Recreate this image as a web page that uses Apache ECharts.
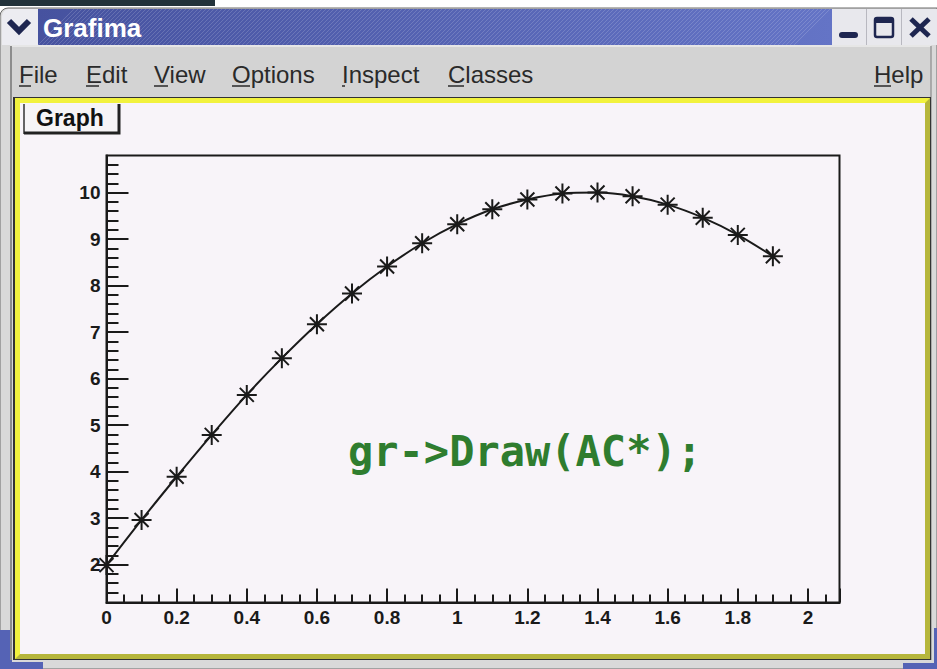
<!DOCTYPE html>
<html>
<head>
<meta charset="utf-8">
<title>Grafima</title>
<script src="https://cdn.jsdelivr.net/npm/echarts@6/dist/echarts.min.js"></script>
<style>
  html, body { margin: 0; padding: 0; background: #fff; }
  #chart { width: 937px; height: 669px; }
</style>
</head>
<body>
<div id="chart"></div>
<script>
// graph points (x, y)
const xValues = [0, 0.1, 0.2, 0.3, 0.4, 0.5, 0.6, 0.7, 0.8, 0.9,
                 1.0, 1.1, 1.2, 1.3, 1.4, 1.5, 1.6, 1.7, 1.8, 1.9]
const yValues = [1.99, 2.96, 3.89, 4.79, 5.65, 6.44, 7.17, 7.83, 8.41, 8.91,
                 9.32, 9.64, 9.85, 9.98, 10.0, 9.92, 9.74, 9.46, 9.09, 8.63]

// axis ticks
const yMajorTicks = [2, 3, 4, 5, 6, 7, 8, 9, 10]
const yMinorTicks = [1.4, 1.6, 1.8]
yMajorTicks.forEach(function (t) {
  [0.2, 0.4, 0.6, 0.8].forEach(function (d) {
    let v = Math.round((t + d) * 10) / 10
    if (v < 10.8) yMinorTicks.push(v)
  })
})

const menuItems = ['File', 'Edit', 'View', 'Options', 'Inspect', 'Classes', 'Help']
const codeText = 'gr->Draw(AC*);'

const ink = '#1a1a1a'
const uiFont = '"Liberation Sans", Arial, sans-serif'

// asterisk marker (ROOT marker style 3)
const starPath = 'path://M9 0L11 0L11 20L9 20Z M0 9L20 9L20 11L0 11Z ' +
  'M2.3 3.7L3.7 2.3L17.7 16.3L16.3 17.7Z M16.3 2.3L17.7 3.7L3.7 17.7L2.3 16.3Z'

function windowChrome() {
  let els = []
  // strip of desktop above the window
  els.push({ type: 'rect', shape: { x: 0, y: 0, width: 215, height: 6 }, style: { fill: '#22323a' } })
  // window body
  els.push({ type: 'rect', shape: { x: 0, y: 8, width: 937, height: 661, r: [8, 0, 0, 0] },
    style: { fill: '#d9d9d9', stroke: '#6a6a6a', lineWidth: 1 } })
  // blue corners of the desktop showing below
  els.push({ type: 'rect', shape: { x: 0, y: 630, width: 12, height: 39 }, style: { fill: '#5563b5' } })
  els.push({ type: 'rect', shape: { x: 0, y: 662, width: 43, height: 7 }, style: { fill: '#5563b5' } })
  els.push({ type: 'rect', shape: { x: 903, y: 663, width: 34, height: 6 }, style: { fill: '#5563b5' } })
  els.push({ type: 'rect', shape: { x: 934, y: 628, width: 3, height: 41 }, style: { fill: '#5563b5' } })

  // title bar
  els.push({ type: 'rect', shape: { x: 38, y: 9, width: 794, height: 36 },
    style: { fill: new echarts.graphic.LinearGradient(0, 0, 1, 0, [
      { offset: 0, color: '#46529f' }, { offset: 1, color: '#6474c6' }]) } })
  let hatch = []
  for (let x = 38; x < 796; x += 4) {
    hatch.push({ type: 'line', shape: { x1: x, y1: 45, x2: x + 36, y2: 9 },
      style: { stroke: 'rgba(255,255,255,0.16)', lineWidth: 1 }, silent: true })
  }
  els.push({ type: 'group', children: hatch })
  els.push({ type: 'rect', shape: { x: 2, y: 9, width: 36, height: 36, r: [7, 0, 0, 0] }, style: { fill: '#ececf1' } })
  els.push({ type: 'polyline', shape: { points: [[9, 21], [19, 31], [29, 21]] },
    style: { stroke: '#1e2650', lineWidth: 6, fill: null } })
  els.push({ type: 'text', x: 43, y: 28,
    style: { text: 'Grafima', fill: '#ffffff', font: 'bold 26px ' + uiFont, verticalAlign: 'middle' } })

  // window buttons
  els.push({ type: 'rect', shape: { x: 832, y: 9, width: 105, height: 36 }, style: { fill: '#e8e8ed' } })
  els.push({ type: 'line', shape: { x1: 866.5, y1: 9, x2: 866.5, y2: 45 }, style: { stroke: '#b8b8c0', lineWidth: 1 } })
  els.push({ type: 'line', shape: { x1: 901.5, y1: 9, x2: 901.5, y2: 45 }, style: { stroke: '#b8b8c0', lineWidth: 1 } })
  els.push({ type: 'rect', shape: { x: 839, y: 32, width: 19, height: 6, r: 3 }, style: { fill: '#1e2650' } })
  els.push({ type: 'rect', shape: { x: 875, y: 18, width: 18, height: 19, r: 2 }, style: { fill: null, stroke: '#1e2650', lineWidth: 2.5 } })
  els.push({ type: 'rect', shape: { x: 875, y: 18, width: 18, height: 5 }, style: { fill: '#1e2650' } })
  els.push({ type: 'line', shape: { x1: 911, y1: 19, x2: 929, y2: 36 }, style: { stroke: '#1e2650', lineWidth: 5 } })
  els.push({ type: 'line', shape: { x1: 929, y1: 19, x2: 911, y2: 36 }, style: { stroke: '#1e2650', lineWidth: 5 } })

  // menu bar
  els.push({ type: 'rect', shape: { x: 10, y: 45, width: 921, height: 52 }, style: { fill: '#d3d3d3' } })
  els.push({ type: 'line', shape: { x1: 10, y1: 46, x2: 931, y2: 46 }, style: { stroke: '#ececec', lineWidth: 1.5 } })
  els.push({ type: 'line', shape: { x1: 11, y1: 46, x2: 11, y2: 660 }, style: { stroke: '#8c8c8c', lineWidth: 2 } })
  els.push({ type: 'line', shape: { x1: 931, y1: 46, x2: 931, y2: 660 }, style: { stroke: '#9a9a9a', lineWidth: 1.5 } })
  const menuX = [19, 86, 154, 232, 342, 448, 874]
  const underlineW = [12, 13, 14, 18, 3, 16, 17]
  menuItems.forEach(function (m, i) {
    els.push({ type: 'text', x: menuX[i], y: 74,
      style: { text: m, fill: '#2a2a2a', font: '24px ' + uiFont, verticalAlign: 'middle' } })
    els.push({ type: 'line', shape: { x1: menuX[i], y1: 86, x2: menuX[i] + underlineW[i], y2: 86 },
      style: { stroke: '#2a2a2a', lineWidth: 1.5 } })
  })

  // canvas panel with yellow highlight border
  els.push({ type: 'rect', shape: { x: 13, y: 97, width: 918, height: 563 }, style: { fill: '#333' } })
  els.push({ type: 'rect', shape: { x: 15, y: 98, width: 915, height: 561 }, style: { fill: '#b6b63c' } })
  els.push({ type: 'polygon', shape: { points: [[15, 98], [930, 98], [924, 104], [21, 104], [21, 653], [15, 659]] },
    style: { fill: '#f2f23e' } })
  els.push({ type: 'rect', shape: { x: 20, y: 103, width: 905, height: 551 }, style: { fill: '#f8f4f9' } })

  // "Graph" tab
  els.push({ type: 'rect', shape: { x: 23, y: 104, width: 97, height: 30 }, style: { fill: '#f6f4f6' } })
  els.push({ type: 'polyline', shape: { points: [[24, 134], [24, 104]] }, style: { stroke: '#333', lineWidth: 1.5, fill: null } })
  els.push({ type: 'polyline', shape: { points: [[24, 133], [119, 133], [119, 104]] }, style: { stroke: '#222', lineWidth: 3, fill: null } })
  els.push({ type: 'text', x: 36, y: 118,
    style: { text: 'Graph', fill: '#111', font: 'bold 23px ' + uiFont, verticalAlign: 'middle' } })

  return els
}

let ch = echarts.init(document.getElementById('chart'), null, { renderer: 'svg' })

let option = {
  animation: false,
  backgroundColor: '#ffffff',
  graphic: {
    elements: windowChrome().concat([
      {
        type: 'text', x: 348, y: 451, z: 100,
        style: { text: codeText, fill: '#2f7d2f', font: 'bold 42px "DejaVu Sans Mono", monospace', verticalAlign: 'middle' }
      }
    ])
  },
  grid: {
    left: 106.5,
    right: 97.5,
    top: 155.5,
    bottom: 66.5,
    show: true,
    borderColor: ink,
    borderWidth: 2,
    backgroundColor: 'transparent',
    z: 10
  },
  xAxis: {
    type: 'value',
    min: 0,
    max: 2.09,
    interval: 0.2,
    z: 10,
    axisLine: { show: true, onZero: false, lineStyle: { color: ink, width: 2 } },
    axisTick: { show: true, inside: true, length: 14, lineStyle: { color: ink, width: 2 } },
    minorTick: { show: true, splitNumber: 4, length: 8, lineStyle: { color: ink, width: 2 } },
    splitLine: { show: false },
    minorSplitLine: { show: false },
    axisLabel: {
      showMaxLabel: false,
      margin: 5,
      color: ink,
      fontSize: 19,
      fontWeight: 'bold',
      fontFamily: 'Liberation Sans'
    }
  },
  yAxis: [
    {
      type: 'value',
      min: 1.186,
      max: 10.797,
      position: 'left',
      z: 10,
      axisLine: { show: true, onZero: false, lineStyle: { color: ink, width: 2 } },
      axisTick: { show: true, inside: true, length: 22, customValues: yMajorTicks, lineStyle: { color: ink, width: 2 } },
      splitLine: { show: false },
      axisLabel: {
        customValues: yMajorTicks,
        margin: 6,
        color: ink,
        fontSize: 19,
        fontWeight: 'bold',
        fontFamily: 'Liberation Sans'
      }
    },
    {
      type: 'value',
      min: 1.186,
      max: 10.797,
      position: 'left',
      offset: 0,
      z: 10,
      axisLine: { show: false },
      axisTick: { show: true, inside: true, length: 12, customValues: yMinorTicks, lineStyle: { color: ink, width: 2 } },
      splitLine: { show: false },
      axisLabel: { show: false }
    }
  ],
  series: [
    {
      name: 'Graph',
      type: 'line',
      data: xValues.map(function (x, i) { return [x, yValues[i]] }),
      smooth: 0.3,
      clip: false,
      z: 20,
      symbol: starPath,
      symbolSize: 20,
      lineStyle: { color: ink, width: 2 },
      itemStyle: { color: ink }
    }
  ]
}
ch.setOption(option)
</script>
</body>
</html>
